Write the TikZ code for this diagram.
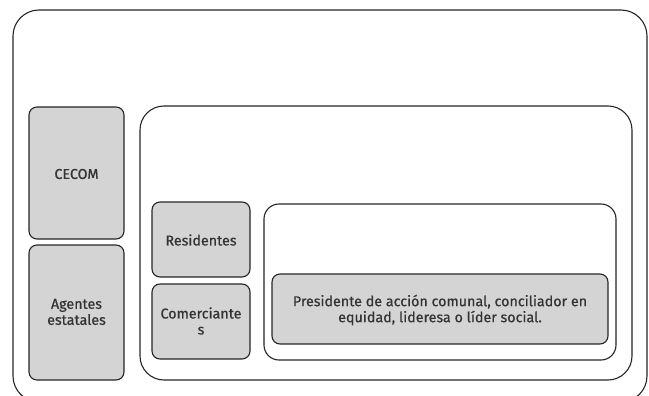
\documentclass[tikz,border=0pt]{standalone}
\usepackage{fontspec}
\setmainfont{Fira Sans}[FakeBold=0.6]
\begin{document}
\begin{tikzpicture}[x=1pt,y=-1pt,
  frame/.style={draw=black!85, line width=1.1pt, fill=white},
  gbox/.style={draw=black!85, line width=1.1pt, fill=black!17, rounded corners=8pt},
  lbl/.style={align=center, font=\fontsize{14.3}{16}\selectfont, text=black!80}]
\useasboundingbox (0,0) rectangle (649,396);
\begin{scope}
\clip (0,0) rectangle (649,396);
\draw[frame, rounded corners=26pt] (13,10) rectangle (647,402);
\end{scope}
\draw[gbox] (29,107) rectangle (124,239);
\node[lbl] (cecom) at (76.5,174) {CECOM};
\draw[gbox] (29,245) rectangle (124,380);
\node[lbl] (agentes) at (76.5,312) {Agentes\\estatales};
\draw[frame, rounded corners=24pt] (140,106) rectangle (632,380);
\draw[gbox] (152,202) rectangle (250,277);
\node[lbl] (resid) at (201,240) {Residentes};
\draw[gbox] (152,284) rectangle (250,359);
\node[lbl] (comer) at (201,321) {Comerciante\\s};
\draw[frame, rounded corners=15pt] (264,204) rectangle (616,360);
\draw[gbox] (272,274) rectangle (608,344);
\node[lbl] (pres) at (440,310) {Presidente de acción comunal, conciliador en\\equidad, lideresa o líder social.};
\end{tikzpicture}
\end{document}
